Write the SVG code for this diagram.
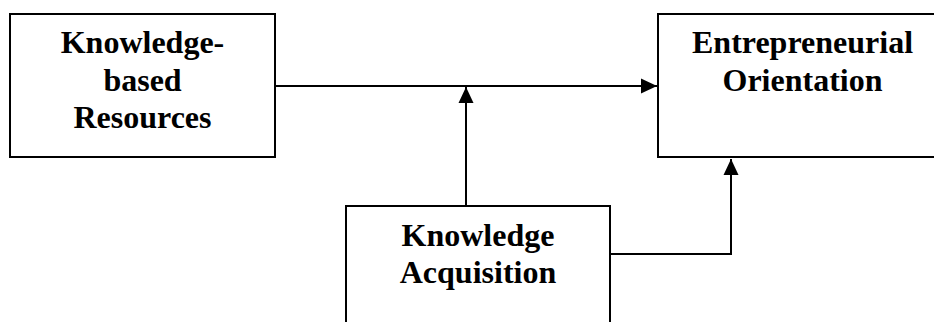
<svg xmlns="http://www.w3.org/2000/svg" width="934" height="322" viewBox="0 0 934 322">
<style>
.box{fill:#fff;stroke:#000;stroke-width:2}
.lbl{font-family:"Liberation Serif","Times New Roman",serif;font-weight:bold;font-size:32px;fill:#000;text-anchor:middle}
.conn{fill:none;stroke:#000;stroke-width:2}
</style>
<defs>
<marker id="arr" markerUnits="userSpaceOnUse" markerWidth="16" markerHeight="16" viewBox="0 0 16 16" refX="16" refY="8" orient="auto">
<path d="M0,0.5 L16,8 L0,15.5 Z" fill="#000"/>
</marker>
</defs>
<rect width="934" height="322" fill="#fff"/>
<g id="kbr">
<rect class="box" x="10" y="14" width="265" height="143"/>
<text class="lbl" x="142.5" y="53">Knowledge-</text>
<text class="lbl" x="142.5" y="91">based</text>
<text class="lbl" x="142.5" y="128">Resources</text>
</g>
<g id="eo">
<rect class="box" x="658" y="14" width="300" height="143"/>
<text class="lbl" x="802.5" y="53">Entrepreneurial</text>
<text class="lbl" x="802.5" y="91">Orientation</text>
</g>
<g id="ka">
<rect class="box" x="346" y="206" width="264" height="140"/>
<text class="lbl" x="478" y="246">Knowledge</text>
<text class="lbl" x="478" y="283">Acquisition</text>
</g>
<g id="connectors">
<line class="conn" x1="275" y1="86" x2="657" y2="86" marker-end="url(#arr)"/>
<line class="conn" x1="466" y1="206" x2="466" y2="87" marker-end="url(#arr)"/>
<polyline class="conn" points="610,254 731,254 731,159" marker-end="url(#arr)"/>
</g>
</svg>
